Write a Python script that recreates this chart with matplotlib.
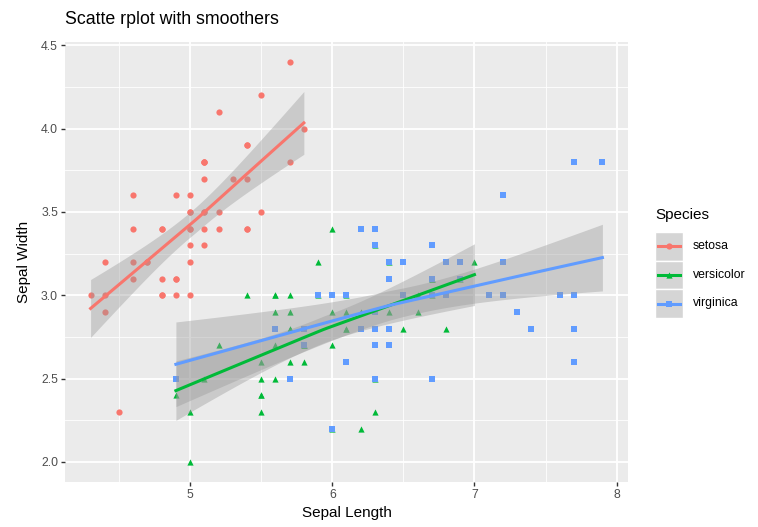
import numpy as np
import matplotlib
matplotlib.use("Agg")
import matplotlib.pyplot as plt

plt.rcParams['font.family'] = ['Liberation Sans', 'DejaVu Sans']

# iris sepal measurements, read per species
species = ['setosa', 'versicolor', 'virginica']
colors = ['#F8766D', '#00BA38', '#619CFF']
markers = ['o', '^', 's']

setosa_len = [5.1, 4.9, 4.7, 4.6, 5.0, 5.4, 4.6, 5.0, 4.4, 4.9, 5.4, 4.8, 4.8, 4.3, 5.8, 5.7, 5.4,
              5.1, 5.7, 5.1, 5.4, 5.1, 4.6, 5.1, 4.8, 5.0, 5.0, 5.2, 5.2, 4.7, 4.8, 5.4, 5.2, 5.5,
              4.9, 5.0, 5.5, 4.9, 4.4, 5.1, 5.0, 4.5, 4.4, 5.0, 5.1, 4.8, 5.1, 4.6, 5.3, 5.0]
setosa_wid = [3.5, 3.0, 3.2, 3.1, 3.6, 3.9, 3.4, 3.4, 2.9, 3.1, 3.7, 3.4, 3.0, 3.0, 4.0, 4.4, 3.9,
              3.5, 3.8, 3.8, 3.4, 3.7, 3.6, 3.3, 3.4, 3.0, 3.4, 3.5, 3.4, 3.2, 3.1, 3.4, 4.1, 4.2,
              3.1, 3.2, 3.5, 3.6, 3.0, 3.4, 3.5, 2.3, 3.2, 3.5, 3.8, 3.0, 3.8, 3.2, 3.7, 3.3]
versicolor_len = [7.0, 6.4, 6.9, 5.5, 6.5, 5.7, 6.3, 4.9, 6.6, 5.2, 5.0, 5.9, 6.0, 6.1, 5.6, 6.7, 5.6,
                  5.8, 6.2, 5.6, 5.9, 6.1, 6.3, 6.1, 6.4, 6.6, 6.8, 6.7, 6.0, 5.7, 5.5, 5.5, 5.8, 6.0,
                  5.4, 6.0, 6.7, 6.3, 5.6, 5.5, 5.5, 6.1, 5.8, 5.0, 5.6, 5.7, 5.7, 6.2, 5.1, 5.7]
versicolor_wid = [3.2, 3.2, 3.1, 2.3, 2.8, 2.8, 3.3, 2.4, 2.9, 2.7, 2.0, 3.0, 2.2, 2.9, 2.9, 3.1, 3.0,
                  2.7, 2.2, 2.5, 3.2, 2.8, 2.5, 2.8, 2.9, 3.0, 2.8, 3.0, 2.9, 2.6, 2.4, 2.4, 2.7, 2.7,
                  3.0, 3.4, 3.1, 2.3, 3.0, 2.5, 2.6, 3.0, 2.6, 2.3, 2.7, 3.0, 2.9, 2.9, 2.5, 2.8]
virginica_len = [6.3, 5.8, 7.1, 6.3, 6.5, 7.6, 4.9, 7.3, 6.7, 7.2, 6.5, 6.4, 6.8, 5.7, 5.8, 6.4, 6.5,
                 7.7, 7.7, 6.0, 6.9, 5.6, 7.7, 6.3, 6.7, 7.2, 6.2, 6.1, 6.4, 7.2, 7.4, 7.9, 6.4, 6.3,
                 6.1, 7.7, 6.3, 6.4, 6.0, 6.9, 6.7, 6.9, 5.8, 6.8, 6.7, 6.7, 6.3, 6.5, 6.2, 5.9]
virginica_wid = [3.3, 2.7, 3.0, 2.9, 3.0, 3.0, 2.5, 2.9, 2.5, 3.6, 3.2, 2.7, 3.0, 2.5, 2.8, 3.2, 3.0,
                 3.8, 2.6, 2.2, 3.2, 2.8, 2.8, 2.7, 3.3, 3.2, 2.8, 3.0, 2.8, 3.0, 2.8, 3.8, 2.8, 2.8,
                 2.6, 3.0, 3.4, 3.1, 3.0, 3.1, 3.1, 3.1, 2.7, 3.2, 3.3, 3.0, 2.5, 3.0, 3.4, 3.0]

lengths = [setosa_len, versicolor_len, virginica_len]
widths = [setosa_wid, versicolor_wid, virginica_wid]


def smoother_row(x, x0, rw, span=1.5):
    # local linear fit at x0, tricube weights over a widened range
    d = np.abs(x - x0)
    h = d.max() * span
    w = np.clip(1 - (d / h) ** 3, 0, None) ** 3 * rw
    X = np.column_stack([np.ones(len(x)), x - x0])
    XtW = X.T * w
    return np.linalg.solve(XtW @ X, XtW)[0]


def smooth_band(x, y, npts=80, iters=4):
    x = np.asarray(x, float)
    y = np.asarray(y, float)
    n = len(x)
    rw = np.ones(n)
    for it in range(iters):
        L = np.array([smoother_row(x, xi, rw) for xi in x])
        r = y - L @ y
        if it < iters - 1:
            u = r / (6 * np.median(np.abs(r)))
            rw = np.clip(1 - u ** 2, 0, None) ** 2
    R = np.eye(n) - L
    RR = R.T @ R
    d1 = np.trace(RR)
    d2 = np.trace(RR @ RR)
    sigma = np.sqrt(np.sum(r ** 2) / d1)
    df = d1 ** 2 / d2
    z = 1.959964
    t = z + (z ** 3 + z) / (4 * df) + (5 * z ** 5 + 16 * z ** 3 + 3 * z) / (96 * df ** 2)
    grid = np.linspace(x.min(), x.max(), npts)
    rows = np.array([smoother_row(x, g, rw) for g in grid])
    fit = rows @ y
    se = sigma * np.sqrt(np.sum(rows ** 2, axis=1))
    return grid, fit, fit - t * se, fit + t * se


fig = plt.figure(figsize=(7.58, 5.27), dpi=100)
ax = fig.add_axes([65 / 758, 1 - 482 / 527, 563 / 758, 440 / 527])
ax.set_facecolor('#EBEBEB')
for s in ax.spines.values():
    s.set_visible(False)

ax.set_xlim(4.12, 8.08)
ax.set_ylim(1.88, 4.52)
ax.set_xticks([5, 6, 7, 8])
ax.set_yticks([2.0, 2.5, 3.0, 3.5, 4.0, 4.5])
ax.set_yticklabels(['2.0', '2.5', '3.0', '3.5', '4.0', '4.5'])
ax.set_xticks([4.5, 5.5, 6.5, 7.5], minor=True)
ax.set_yticks([2.25, 2.75, 3.25, 3.75, 4.25], minor=True)
ax.grid(True, which='major', color='white', lw=1.3)
ax.grid(True, which='minor', color='white', lw=0.6)
ax.set_axisbelow(True)
ax.tick_params(which='major', length=3, width=1, color='#333333', labelsize=8.8,
               labelcolor='#4D4D4D', pad=2)
ax.tick_params(which='minor', length=0)

for i in range(3):
    ax.scatter(lengths[i], widths[i], s=20, marker=markers[i], color=colors[i],
               linewidths=0, zorder=2)

for i in range(3):
    gx, fit, lo, hi = smooth_band(lengths[i], widths[i])
    ax.fill_between(gx, lo, hi, color='#999999', alpha=0.4, linewidth=0, zorder=3)
    ax.plot(gx, fit, color=colors[i], lw=2.2, zorder=4)

ax.set_xlabel('Sepal Length', fontsize=11, labelpad=4)
ax.set_ylabel('Sepal Width', fontsize=11, labelpad=7)
fig.text(65 / 758, 1 - 20 / 527, 'Scatte rplot with smoothers', fontsize=12.8,
         ha='left', va='center')

# legend drawn by hand to get ggplot-style grey keys
fig.text(655 / 758, 1 - 215 / 527, 'Species', fontsize=11, ha='left', va='center')
leg = fig.add_axes([655 / 758, 1 - 318 / 527, 28 / 758, 86 / 527])
leg.set_xlim(0, 1)
leg.set_ylim(0, 3)
leg.axis('off')
for i in range(3):
    yc = 2.5 - i
    leg.add_patch(plt.Rectangle((0, yc - 0.5), 1, 1, facecolor='#D5D5D5',
                                edgecolor='white', lw=1))
    leg.plot([0.12, 0.88], [yc, yc], color=colors[i], lw=2.2)
    leg.scatter([0.5], [yc], s=20, marker=markers[i], color=colors[i], linewidths=0)
    fig.text(693 / 758, 1 - (246 + 28.5 * i) / 527, species[i], fontsize=8.8,
             ha='left', va='center')

fig.savefig('out.png', dpi=100)
